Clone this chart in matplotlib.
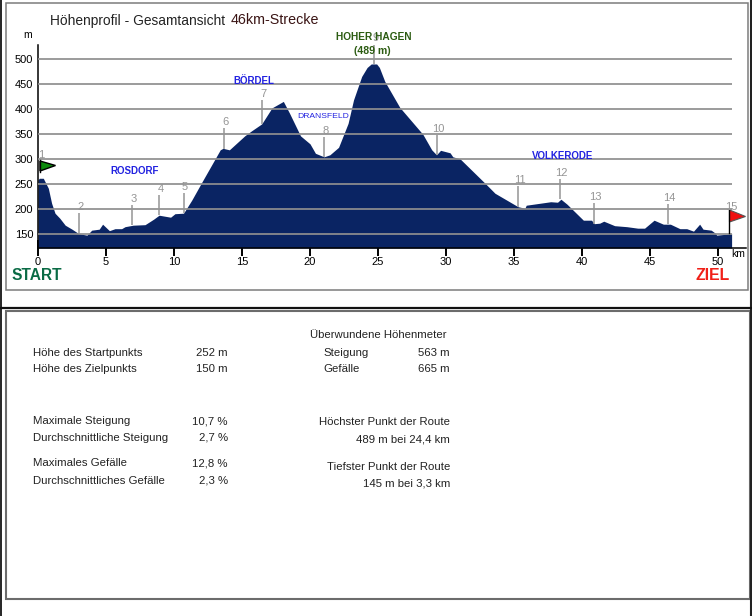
import matplotlib
matplotlib.use('Agg')
import matplotlib.pyplot as plt
from matplotlib.patches import Rectangle, Polygon

plt.rcParams['font.family'] = ['Liberation Sans', 'DejaVu Sans']

# profile
km = [0.0, 0.1, 0.39, 0.76, 1.0, 1.25, 1.6, 2.0, 2.5, 3.0, 3.6, 3.95, 4.5, 4.75, 5.25, 5.66, 6.15, 6.4,
      7.0, 7.87, 8.5, 8.9, 9.75, 10.07, 10.7, 11.3, 12.0, 13.4, 13.6, 14.07, 15.2, 15.7, 16.45, 17.2,
      18.04, 18.5, 19.3, 20.0, 20.4, 21.03, 21.46, 22.1, 22.8, 23.2, 23.8, 24.2, 24.5, 24.9, 25.1, 25.5, 26.6,
      28.3, 28.95, 29.3, 29.6, 30.3, 30.5, 31.03, 32.87, 33.6, 35.3, 35.8, 35.9, 37.7, 38.2, 38.45,
      38.9, 40.1, 40.7, 40.9, 41.3, 41.6, 42.4, 43.3, 44.1, 44.6, 45.3, 45.98, 46.5, 47.2, 47.7, 48.2,
      48.65, 48.9, 49.5, 49.8, 49.9, 51.0]
height = [258, 261, 261, 241, 211, 191, 181, 167, 159, 150, 147, 157, 159, 169, 156, 160, 160, 164,
          167, 168, 179, 187, 183, 190, 191, 217, 251, 318, 321, 318, 346, 356, 370, 402,
          415, 391, 346, 330, 311, 304, 308, 323, 371, 418, 465, 483, 490, 490, 483, 455, 403,
          349, 318, 308, 317, 312, 304, 300, 251, 231, 204, 201, 207, 214, 213, 219,
          209, 177, 177, 170, 171, 175, 166, 164, 161, 161, 177, 169, 169, 160, 160, 155,
          169, 159, 157, 151, 147, 150]

# waypoints 2..14: position, stem top, stem foot
wp_km = [3.0, 6.9, 8.9, 10.7, 13.68, 16.5, 21.03, 24.7, 29.35, 35.3, 38.4, 40.9, 46.3]
wp_top = [192, 207, 227, 231, 361, 418, 344, 531, 348, 245, 259, 211, 209]
wp_foot = [150, 167, 187, 191, 320, 370, 304, 490, 308, 204, 219, 170, 169]
wp_names = ['2', '3', '4', '5', '6', '7', '8', '9', '10', '11', '12', '13', '14']

x_ticks = [0, 5, 10, 15, 20, 25, 30, 35, 40, 45, 50]
y_ticks = [150, 200, 250, 300, 350, 400, 450, 500]

left_rows = [('Höhe des Startpunkts', '252 m', 353), ('Höhe des Zielpunkts', '150 m', 369.5),
             ('Maximale Steigung', '10,7 %', 421.5), ('Durchschnittliche Steigung', '2,7 %', 438),
             ('Maximales Gefälle', '12,8 %', 463.5), ('Durchschnittliches Gefälle', '2,3 %', 480.5)]
right_rows = [('Steigung', '563 m', 353), ('Gefälle', '665 m', 369.5)]
right_lines = [('Höchster Punkt der Route', 422), ('489 m bei 24,4 km', 439),
               ('Tiefster Punkt der Route', 466.5), ('145 m bei 3,3 km', 484)]

W, H = 752, 616
navy = '#0a2463'
grid_col = '#8f8f8f'
stem_col = '#959595'
fig = plt.figure(figsize=(W / 100, H / 100), dpi=100, facecolor='white')

# chart axes, pixel box x 38..746, y 45..248
ax = fig.add_axes([38 / W, 1 - 248 / H, 708 / W, 203 / H])
ax.set_xlim(0, 708 / 13.6)
ax.set_ylim(121.3, 528)
ax.patch.set_alpha(0)
ax.fill_between(km, height, 121.3, color=navy, lw=0, zorder=2)
ax.hlines(y_ticks, 0, 51, color=grid_col, lw=1.25, zorder=3)
ax.vlines(wp_km, wp_foot, wp_top, color=stem_col, lw=1.1, zorder=4)
for x, top, name in zip(wp_km, wp_top, wp_names):
    ax.text(x + 0.1, top + 2, name, color=stem_col, fontsize=8, ha='center', va='bottom', zorder=4)
ax.spines['top'].set_visible(False)
ax.spines['right'].set_visible(False)
ax.spines['left'].set_linewidth(1.1)
ax.spines['bottom'].set_linewidth(1.1)
ax.set_xticks(x_ticks)
ax.set_yticks(y_ticks)
ax.tick_params(axis='x', direction='inout', length=11, width=1.4, labelsize=8, pad=1, color='black')
ax.tick_params(axis='y', length=0, labelsize=8, pad=3.5)

# overlay in pixel coordinates for frames, flags and free text
ov = fig.add_axes([0, 0, 1, 1], zorder=5)
ov.set_xlim(0, W)
ov.set_ylim(H, 0)
ov.axis('off')


def frame(x0, y0, x1, y1, color, lw):
    ov.add_patch(Rectangle((x0, y0), x1 - x0, y1 - y0, fill=False, edgecolor=color, lw=lw))


frame(6, 2.5, 748, 290, '#7c7c7c', 1.1)
frame(6, 310.5, 750, 598.5, '#6c6c6c', 1.5)
ov.plot([0.5, 0.5], [0, H], color='black', lw=1.2)
ov.plot([750.5, 750.5], [0, H], color='#222222', lw=1.5)
ov.plot([0, 751], [308, 308], color='#111111', lw=1.6)

# flags
ov.plot([39.5, 39.5], [160, 172], color='black', lw=1)
ov.add_patch(Polygon([(40, 161), (55.5, 165.5), (40, 171)], facecolor='#0c8a0c', edgecolor='black', lw=1))
ov.plot([729, 729], [210, 233], color='black', lw=1)
ov.add_patch(Polygon([(729.5, 210), (745.5, 216.5), (729.5, 222)], facecolor='#f01010', edgecolor='#555555', lw=0.8))


def label(x, y, s, **kw):
    kw.setdefault('va', 'center')
    ov.text(x, y, s, **kw)


label(50, 21, 'Höhenprofil - Gesamtansicht', fontsize=9.9, color='#222222')
label(231, 20.5, '46km-Strecke', fontsize=10.3, color='#3a1414')
label(28, 35, 'm', fontsize=7.5, ha='center')
label(731, 254, 'km', fontsize=7.5)
label(41, 155, '1', fontsize=8, color=stem_col, ha='center')
label(731, 207, '15', fontsize=8, color=stem_col, ha='center')
label(110, 171, 'ROSDORF', fontsize=7, color='#2222e0', weight='bold')
label(233, 81, 'BÖRDEL', fontsize=7, color='#2222e0', weight='bold')
label(297, 116, 'DRANSFELD', fontsize=6.1, color='#2222e0')
label(532, 156, 'VOLKERODE', fontsize=7, color='#2222e0', weight='bold')
label(374, 37, 'HOHER HAGEN', fontsize=7.3, color='#2c5c12', weight='bold', ha='center')
label(372, 51, '(489 m)', fontsize=7.6, color='#2c5c12', weight='bold', ha='center')
label(12, 275, 'START', fontsize=11.2, color='#0a6b45', weight='bold')
label(696, 275, 'ZIEL', fontsize=11.4, color='#f02018', weight='bold')

# statistics panel
table_size = 8.2
label(378.5, 335, 'Überwundene Höhenmeter', fontsize=table_size, ha='center', color='#222222')
for name, value, y in left_rows:
    label(33, y, name, fontsize=table_size, color='#222222')
    label(228, y, value, fontsize=table_size, ha='right', color='#222222')
for name, value, y in right_rows:
    label(323.5, y, name, fontsize=table_size, color='#222222')
    label(450, y, value, fontsize=table_size, ha='right', color='#222222')
for s, y in right_lines:
    label(450, y, s, fontsize=table_size, ha='right', color='#222222')

fig.savefig('out.png', dpi=100)
